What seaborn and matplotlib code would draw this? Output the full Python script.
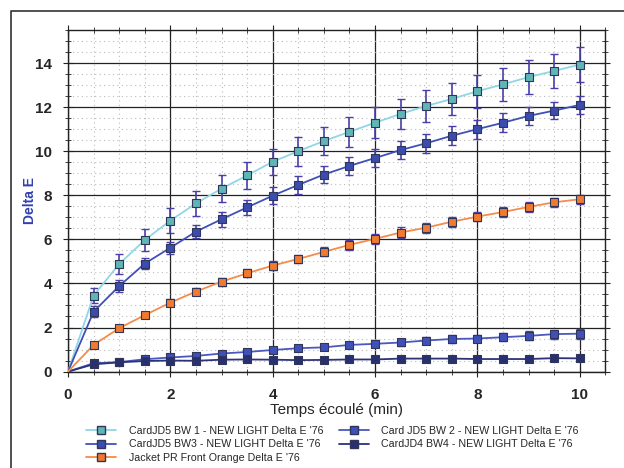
import seaborn as sns
import pandas as pd
import numpy as np
import matplotlib.pyplot as plt
from matplotlib.lines import Line2D

# temps (min)
temps = [0, 0.5, 1, 1.5, 2, 2.5, 3, 3.5, 4, 4.5, 5, 5.5, 6, 6.5, 7, 7.5, 8, 8.5, 9, 9.5, 10]

bw1 = [0, 3.45, 4.88, 5.97, 6.85, 7.63, 8.3, 8.9, 9.52, 10.0, 10.46, 10.88, 11.29, 11.69, 12.05, 12.37, 12.72, 13.03, 13.36, 13.64, 13.93]
bw1_err = [0, 0.33, 0.45, 0.5, 0.55, 0.57, 0.6, 0.6, 0.6, 0.65, 0.65, 0.68, 0.7, 0.7, 0.72, 0.73, 0.75, 0.76, 0.77, 0.76, 0.8]

bw3 = [0, 2.72, 3.88, 4.9, 5.62, 6.35, 6.91, 7.45, 7.98, 8.47, 8.94, 9.33, 9.69, 10.05, 10.36, 10.7, 11.0, 11.29, 11.6, 11.84, 12.1]
bw3_err = [0, 0.25, 0.28, 0.25, 0.28, 0.3, 0.33, 0.35, 0.38, 0.4, 0.4, 0.4, 0.42, 0.42, 0.43, 0.43, 0.43, 0.42, 0.42, 0.4, 0.4]

jacket = [0, 1.21, 1.97, 2.56, 3.13, 3.63, 4.08, 4.46, 4.81, 5.11, 5.43, 5.75, 6.02, 6.31, 6.53, 6.8, 7.03, 7.24, 7.47, 7.68, 7.82]
jacket_err = [0, 0.1, 0.12, 0.14, 0.16, 0.17, 0.18, 0.19, 0.2, 0.2, 0.2, 0.22, 0.22, 0.24, 0.22, 0.22, 0.22, 0.22, 0.22, 0.2, 0.2]

bw2 = [0, 0.38, 0.43, 0.56, 0.64, 0.71, 0.82, 0.89, 0.98, 1.06, 1.1, 1.21, 1.26, 1.32, 1.41, 1.48, 1.5, 1.56, 1.62, 1.7, 1.72]
bw2_err = [0, 0.08, 0.08, 0.1, 0.1, 0.1, 0.12, 0.12, 0.12, 0.14, 0.14, 0.15, 0.16, 0.16, 0.16, 0.17, 0.18, 0.18, 0.2, 0.2, 0.22]

bw4 = [0, 0.33, 0.42, 0.48, 0.5, 0.49, 0.54, 0.55, 0.54, 0.52, 0.53, 0.55, 0.55, 0.59, 0.59, 0.59, 0.57, 0.57, 0.57, 0.61, 0.6]
bw4_err = [0, 0.04, 0.04, 0.05, 0.05, 0.05, 0.05, 0.05, 0.05, 0.05, 0.05, 0.05, 0.05, 0.06, 0.06, 0.06, 0.06, 0.06, 0.06, 0.06, 0.06]

noms = ["CardJD5 BW 1 - NEW LIGHT Delta E '76",
        "Card JD5 BW 2 - NEW LIGHT Delta E '76",
        "CardJD5 BW3 - NEW LIGHT Delta E '76",
        "CardJD4 BW4 - NEW LIGHT Delta E '76",
        "Jacket PR Front Orange Delta E '76"]
valeurs = [bw1, bw2, bw3, bw4, jacket]
erreurs = [bw1_err, bw2_err, bw3_err, bw4_err, jacket_err]
couleurs_ligne = ['#8fd6e6', '#4a58c0', '#4050b8', '#2c3478', '#f58c4a']
couleurs_face = ['#5fb7b5', '#3f50b8', '#3a4cb0', '#283070', '#f07a30']

rows = []
for nom, v in zip(noms, valeurs):
    for t, y in zip(temps, v):
        rows.append({'Temps': t, 'DeltaE': y, 'Serie': nom})
df = pd.DataFrame(rows)

sns.set_style('ticks')
plt.rcParams['font.family'] = ['Liberation Sans', 'DejaVu Sans']

fig = plt.figure(figsize=(6.24, 4.68), dpi=100)
ax = fig.add_axes([0.109, 0.206, 0.861, 0.730])

# error bars behind
for v, e in zip(valeurs, erreurs):
    ax.errorbar(temps[1:], v[1:], yerr=e[1:], fmt='none', ecolor='#4a3fa8',
                elinewidth=1.2, capsize=3, capthick=1, zorder=2)

sns.lineplot(data=df, x='Temps', y='DeltaE', hue='Serie', hue_order=noms,
             palette=dict(zip(noms, couleurs_ligne)), linewidth=1.3,
             legend=False, ax=ax, zorder=3)

# no marker at the origin
for v, cf in zip(valeurs, couleurs_face):
    ax.scatter(temps[1:], v[1:], marker='s', s=36, color=cf, edgecolor='#30355a',
               linewidth=0.8, zorder=4)

ax.set_xlim(0, 10.5)
ax.set_ylim(0, 15.5)
ax.set_xticks([0, 2, 4, 6, 8, 10])
ax.set_yticks([0, 2, 4, 6, 8, 10, 12, 14])
ax.set_xticks(np.arange(0, 10.51, 0.5), minor=True)
ax.set_yticks(np.arange(0, 15.51, 0.5), minor=True)
ax.grid(which='major', color='#222222', linewidth=0.9)
ax.grid(which='minor', color='#bbbbbb', linestyle=(0, (1, 3)), linewidth=0.8)
ax.set_axisbelow(True)
ax.tick_params(which='both', direction='inout', top=True, right=True,
               color='#222222')
ax.tick_params(which='major', length=7, labelsize=11, pad=8)
ax.tick_params(which='minor', length=5)
for lab in ax.get_xticklabels() + ax.get_yticklabels():
    lab.set_fontweight('bold')
for sp in ax.spines.values():
    sp.set_color('#222222')
    sp.set_linewidth(1)

ax.set_xlabel('Temps écoulé (min)', fontsize=11, labelpad=1)
ax.set_ylabel('Delta E', fontsize=10, fontweight='bold', color='#3040b0')
ax.yaxis.set_label_coords(-0.058, 0.5)

handles = []
for cl, cf in zip(couleurs_ligne, couleurs_face):
    handles.append(Line2D([], [], color=cl, linewidth=1.3, marker='s',
                          markersize=6, markerfacecolor=cf,
                          markeredgecolor='#30355a'))
ordre = [0, 2, 4, 1, 3]
fig.legend([handles[i] for i in ordre], [noms[i] for i in ordre],
           loc='upper left', bbox_to_anchor=(0.13, 0.102), ncol=2,
           frameon=False, fontsize=7.7, handlelength=2.8,
           columnspacing=1.4, labelspacing=0.35, borderpad=0, handletextpad=1.2)

# outer frame
fig.add_artist(Line2D([0.018, 0.018, 1.0], [0.0, 0.977, 0.977],
                      transform=fig.transFigure, color='#333333', linewidth=1.2))

fig.savefig('out.png', dpi=100)
